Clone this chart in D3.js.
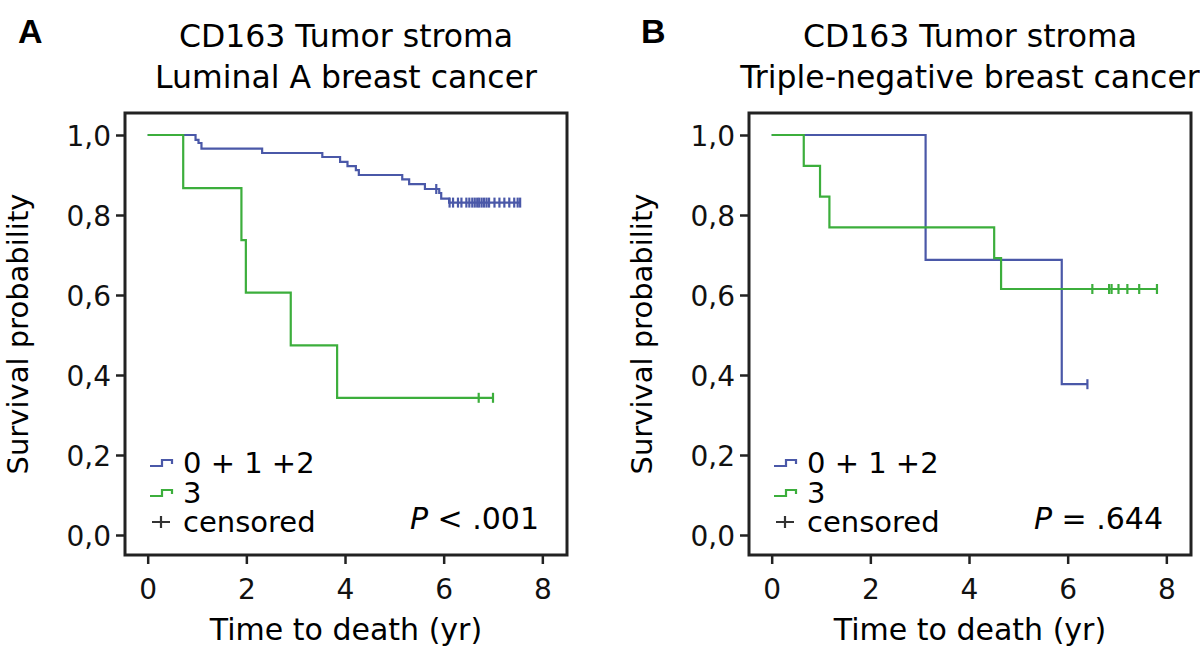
<!DOCTYPE html>
<html>
<head>
<meta charset="utf-8">
<script src="https://cdnjs.cloudflare.com/ajax/libs/d3/7.8.5/d3.min.js"></script>
<style>
  body { margin: 0; background: #fff; }
  svg { display: block; font-family: "DejaVu Sans", sans-serif; }
</style>
</head>
<body>
<svg id="chart" width="1200" height="655"></svg>
<script>
// survival curves: [time (yr), survival after event]
var luminalLow = [[0.97,0.988],[1.03,0.98],[1.09,0.966],[2.32,0.955],[3.54,0.945],[3.9,0.933],[4.05,0.922],[4.22,0.912],[4.28,0.9],[5.16,0.889],[5.3,0.877],[5.62,0.865],[5.91,0.855],[5.95,0.841],[6.11,0.831]];
var luminalLowCensored = [5.85,6.12,6.19,6.29,6.36,6.46,6.52,6.58,6.63,6.68,6.72,6.77,6.82,6.87,6.92,7.03,7.13,7.23,7.33,7.43,7.5,7.55];
var luminalHigh = [[0.72,0.867],[1.9,0.737],[1.99,0.606],[2.9,0.474],[3.84,0.343]];
var luminalHighCensored = [6.71,7.0];

var tnbcLow = [[3.12,0.688],[5.88,0.377]];
var tnbcLowCensored = [6.4];
var tnbcHigh = [[0.65,0.923],[0.98,0.846],[1.17,0.769],[4.51,0.692],[4.65,0.615]];
var tnbcHighCensored = [6.5,6.84,6.89,7.03,7.21,7.45,7.81];

var xTicks = [0, 2, 4, 6, 8];
var yTicks = [0, 0.2, 0.4, 0.6, 0.8, 1.0];
var legendLabels = ["0 + 1 +2", "3", "censored"];

var blue = "#4a58a8", green = "#3cae3c";

var svg = d3.select("#chart");
var fmt = function(d) { return d3.format(".1f")(d).replace(".", ","); };

function panel(opt) {
  var left = opt.left, top = 113, w = 442, h = 442;
  var x = d3.scaleLinear().domain([-0.46, 8.5]).range([left, left + w]);
  var y = d3.scaleLinear().domain([-0.05, 1.055]).range([top + h, top]);
  var g = svg.append("g");

  // panel letter + title
  g.append("text").attr("x", opt.letterX).attr("y", 43).text(opt.letter)
    .style("font-size", "34px").style("font-weight", "bold").style("font-family", "Liberation Sans, sans-serif");
  g.append("text").attr("x", left + w / 2).attr("y", 47).attr("text-anchor", "middle")
    .text("CD163 Tumor stroma").style("font-size", "31.5px");
  g.append("text").attr("x", left + w / 2).attr("y", 88).attr("text-anchor", "middle")
    .text(opt.subtitle).style("font-size", "31.5px");

  // axes
  var xa = g.append("g").attr("transform", "translate(0," + (top + h) + ")")
    .call(d3.axisBottom(x).tickValues(xTicks).tickSize(9).tickPadding(8).tickFormat(d3.format("d")));
  var ya = g.append("g").attr("transform", "translate(" + left + ",0)")
    .call(d3.axisLeft(y).tickValues(yTicks).tickSize(9).tickPadding(5).tickFormat(fmt));
  [xa, ya].forEach(function(a) {
    a.select(".domain").remove();
    a.selectAll("line").attr("stroke", "#222").attr("stroke-width", 2.5);
    a.selectAll("text").attr("fill", "#111").style("font-size", "28px").style("font-family", "DejaVu Sans, sans-serif");
  });
  xa.selectAll("text").attr("dy", "0.95em");
  ya.selectAll("text").attr("dy", "0.36em");

  g.append("rect").attr("x", left).attr("y", top).attr("width", w).attr("height", h)
    .attr("fill", "none").attr("stroke", "#222").attr("stroke-width", 3);

  g.append("text").attr("x", left + w / 2).attr("y", 640).attr("text-anchor", "middle")
    .text("Time to death (yr)").style("font-size", "30px");
  g.append("text").attr("transform", "translate(" + (left - 97) + "," + (top + h / 2) + ") rotate(-90)")
    .attr("text-anchor", "middle").text("Survival probability").style("font-size", "29px");

  // curves
  var line = d3.line().curve(d3.curveStepAfter).x(function(d) { return x(d[0]); }).y(function(d) { return y(d[1]); });
  opt.series.forEach(function(s) {
    var pts = [[0, 1]].concat(s.events);
    var end = d3.max(s.censored);
    pts.push([end, pts[pts.length - 1][1]]);
    g.append("path").datum(pts).attr("d", line).attr("fill", "none")
      .attr("stroke", s.color).attr("stroke-width", 2.2);
    var survAt = function(t) {
      var v = 1;
      s.events.forEach(function(e) { if (e[0] <= t) v = e[1]; });
      return v;
    };
    g.selectAll(null).data(s.censored).enter().append("line")
      .attr("x1", function(d) { return x(d); }).attr("x2", function(d) { return x(d); })
      .attr("y1", function(d) { return y(survAt(d)) - 5; }).attr("y2", function(d) { return y(survAt(d)) + 5; })
      .attr("stroke", s.color).attr("stroke-width", 2.2);
  });

  // legend
  var lg = g.append("g").attr("transform", "translate(" + (left + 25) + ",0)");
  var ly = [463, 493, 522];
  [blue, green].forEach(function(c, i) {
    lg.append("path").attr("d", "M0," + (ly[i] + 3) + "H12V" + (ly[i] - 3) + "H22V" + (ly[i] + 1))
      .attr("fill", "none").attr("stroke", c).attr("stroke-width", 2.2);
  });
  lg.append("path").attr("d", "M2," + ly[2] + "H20M11," + (ly[2] - 6) + "V" + (ly[2] + 6))
    .attr("stroke", "#333").attr("stroke-width", 2.2);
  legendLabels.forEach(function(t, i) {
    lg.append("text").attr("x", 33).attr("y", ly[i]).attr("dy", "0.36em").text(t).style("font-size", "29px");
  });

  // p-value
  var p = g.append("text").attr("x", left + w - 28).attr("y", 529).attr("text-anchor", "end").style("font-size", "30px");
  p.append("tspan").text("P").style("font-style", "italic");
  p.append("tspan").text(opt.pText);
}

panel({ left: 125, letter: "A", letterX: 18, subtitle: "Luminal A breast cancer", pText: " < .001",
  series: [{ events: luminalLow, censored: luminalLowCensored, color: blue },
           { events: luminalHigh, censored: luminalHighCensored, color: green }] });
panel({ left: 749, letter: "B", letterX: 641, subtitle: "Triple-negative breast cancer", pText: " = .644",
  series: [{ events: tnbcLow, censored: tnbcLowCensored, color: blue },
           { events: tnbcHigh, censored: tnbcHighCensored, color: green }] });
</script>
</body>
</html>
